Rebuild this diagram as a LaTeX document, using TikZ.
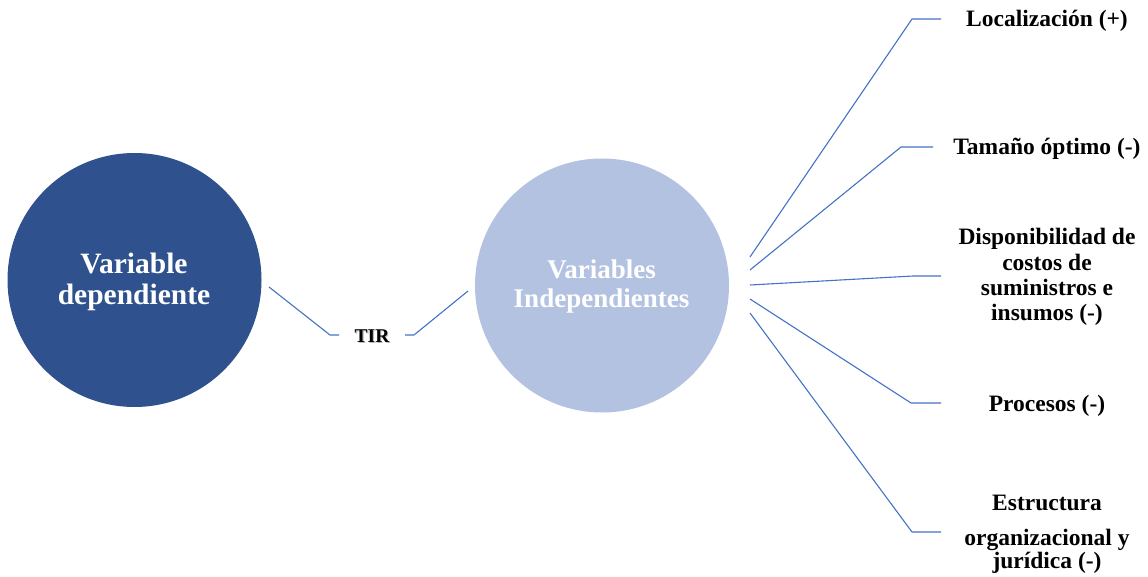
\documentclass[tikz,border=0pt]{standalone}
\usepackage{fontspec}
\setmainfont{Liberation Serif}
\definecolor{depblue}{HTML}{2F528F}
\definecolor{indblue}{HTML}{B4C2E1}
\definecolor{linkblue}{HTML}{4472C4}
\begin{document}
\begin{tikzpicture}[x=1pt,y=-1pt,
  bubble/.style={circle, minimum size=254pt, inner sep=0pt, draw=none},
  link/.style={draw=linkblue, line width=1.1pt, line join=round},
  inner/.style={anchor=base, inner sep=0pt, text=white, font=\bfseries\fontsize{29.5}{31}\selectfont},
  innersm/.style={anchor=base, inner sep=0pt, text=white, font=\bfseries\fontsize{27}{28}\selectfont},
  lbl/.style={anchor=base, inner sep=0pt, font=\bfseries\fontsize{23.5}{25}\selectfont},
  tirtxt/.style={anchor=base, inner sep=0pt, font=\bfseries\fontsize{19.5}{21}\selectfont}]
\useasboundingbox (0,0) rectangle (1148,577);

% the two variable groups
\node[bubble, fill=depblue] (dep) at (134.5,280) {};
\node[bubble, fill=indblue] (ind) at (602,285.5) {};
\node[inner] (depA) at (134,274) {Variable};
\node[inner] (depB) at (134,305) {dependiente};
\node[innersm] (indA) at (601.5,279) {Variables};
\node[innersm] (indB) at (601.5,307) {Independientes};

% TIR link between the groups
\node[tirtxt, text=black!45, opacity=0.6] (tirsh) at (373.2,343.2) {TIR};
\node[tirtxt] (tir) at (372,342) {TIR};
\coordinate (tA) at (269,287);
\coordinate (tB) at (330,335);
\coordinate (tC) at (339,335);
\coordinate (tD) at (405,335);
\coordinate (tE) at (414,335);
\coordinate (tF) at (468,291);
\draw[link] (tA) -- (tB) -- (tC);
\draw[link] (tD) -- (tE) -- (tF);

% independent variables
\node[lbl] (loc) at (1047,27) {Localización (+)};
\node[lbl] (tam) at (1047,155) {Tamaño óptimo (-)};
\node[lbl] (dis1) at (1047,245) {Disponibilidad de};
\node[lbl] (dis2) at (1047,270.5) {costos de};
\node[lbl] (dis3) at (1047,295) {suministros e};
\node[lbl] (dis4) at (1047,320) {insumos (-)};
\node[lbl] (pro) at (1047,411) {Procesos (-)};
\node[lbl] (est1) at (1047,510) {Estructura};
\node[lbl] (est2) at (1047,545) {organizacional y};
\node[lbl] (est3) at (1047,568.5) {jurídica (-)};

% branches from the independent group
\coordinate (s1) at (750,257);
\coordinate (s2) at (750,270);
\coordinate (s3) at (750,285);
\coordinate (s4) at (750,299);
\coordinate (s5) at (750,313);
\coordinate (k1) at (912,19);
\coordinate (k2) at (901,147);
\coordinate (k3) at (913,276);
\coordinate (k4) at (911,403);
\coordinate (k5) at (912,532);
\coordinate (e1) at (941,19);
\coordinate (e2) at (933,147);
\coordinate (e3) at (941,276);
\coordinate (e4) at (941,403);
\coordinate (e5) at (941,532);
\draw[link] (s1) -- (k1) -- (e1);
\draw[link] (s2) -- (k2) -- (e2);
\draw[link] (s3) -- (k3) -- (e3);
\draw[link] (s4) -- (k4) -- (e4);
\draw[link] (s5) -- (k5) -- (e5);
\end{tikzpicture}
\end{document}
